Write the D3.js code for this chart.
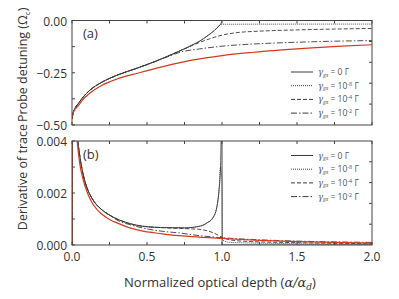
<!DOCTYPE html>
<html>
<head>
<meta charset="utf-8">
<script src="https://cdn.jsdelivr.net/npm/d3@7"></script>
<style>
  body { margin: 0; background: #fff; }
  text { font-family: "Open Sans", "Noto Sans", sans-serif; }
</style>
</head>
<body>
<div id="chart"></div>
<script>
// ---- data ----
// panel (a): probe detuning vs normalized optical depth
const detRed = [[0,-0.47],[0.005,-0.45],[0.02,-0.425],[0.04,-0.41],[0.07,-0.38],[0.12,-0.347],[0.2,-0.31],[0.3,-0.28],[0.45,-0.25],[0.6,-0.222],[0.8,-0.19],[1.0,-0.168],[1.2,-0.153],[1.4,-0.141],[1.6,-0.131],[1.8,-0.123],[2.0,-0.116]];
const detSolid = [[0,-0.47],[0.005,-0.45],[0.02,-0.42],[0.04,-0.4],[0.07,-0.37],[0.12,-0.333],[0.2,-0.295],[0.3,-0.262],[0.45,-0.224],[0.55,-0.197],[0.65,-0.167],[0.72,-0.145],[0.8,-0.118],[0.853,-0.098],[0.9,-0.075],[0.95,-0.047],[0.98,-0.026],[0.995,-0.011],[1.0,0],[2.0,0]];
const detDotted = detSolid.filter(d => d[0] <= 0.98).concat([[0.99,-0.02],[1.0,-0.018],[2.0,-0.017]]);
const detDashed = detSolid.filter(d => d[0] <= 0.72).concat([[0.8,-0.12],[0.853,-0.104],[0.9,-0.092],[0.95,-0.08],[1.0,-0.07],[1.1,-0.058],[1.25,-0.051],[1.5,-0.045],[1.75,-0.041],[2.0,-0.038]]);
const detDashDot = detSolid.filter(d => d[0] <= 0.45).concat([[0.55,-0.198],[0.65,-0.17],[0.72,-0.152],[0.85,-0.136],[1.0,-0.123],[1.25,-0.111],[1.5,-0.104],[1.75,-0.099],[2.0,-0.096]]);

// panel (b): derivative of trace
const derRed = [[0,0],[0.001,0.008],[0.02,0.0052],[0.03,0.0043],[0.05,0.0032],[0.075,0.0025],[0.1,0.00205],[0.125,0.00172],[0.15,0.00148],[0.2,0.00118],[0.25,0.00098],[0.3,0.00085],[0.375,0.00068],[0.45,0.00056],[0.6,0.00043],[0.8,0.00032],[1.0,0.00025],[1.25,0.00018],[1.5,0.00013],[1.75,0.0001],[2.0,0.00007]];
const derSolid = [[0,0],[0.001,0.008],[0.02,0.0054],[0.03,0.0045],[0.05,0.0035],[0.075,0.0027],[0.1,0.0022],[0.125,0.00188],[0.15,0.00165],[0.2,0.00135],[0.25,0.00115],[0.3,0.001],[0.375,0.00084],[0.45,0.00074],[0.6,0.00067],[0.75,0.00066],[0.85,0.00072],[0.9,0.00085],[0.94,0.00105],[0.97,0.0016],[0.98,0.0021],[0.99,0.003],[0.995,0.0045],[1.0,0.008],[1.0005,0],[2.0,0]];
const derDotted = derSolid.filter(d => d[0] <= 0.99).concat([[0.995,0.0028],[1.0,0.0024],[1.003,0.0002],[1.05,0.0001],[1.5,0.00005],[2.0,0.00003]]);
const derDashed = derSolid.filter(d => d[0] <= 0.6).concat([[0.7,0.00064],[0.8,0.00062],[0.853,0.0006],[0.9,0.00055],[0.95,0.00045],[1.0,0.0003],[1.05,0.0002],[1.2,0.00013],[1.5,0.00009],[2.0,0.00005]]);
const derDashDot = derSolid.filter(d => d[0] <= 0.25).concat([[0.3,0.00096],[0.4,0.00076],[0.5,0.00062],[0.6,0.00053],[0.72,0.00046],[0.85,0.00036],[1.0,0.00028],[1.25,0.0002],[1.5,0.00015],[2.0,0.0001]]);

const xTicks = [0, 0.5, 1.0, 1.5, 2.0];
const detTicks = [0, -0.25, -0.5];
const derTicks = [0, 0.002, 0.004];
const legendExp = [null, "-8", "-4", "-2"];

// ---- layout ----
const width = 399, height = 299;
const left = 72, right = 372;
const panelA = { top: 20.5, bottom: 125 };
const panelB = { top: 141, bottom: 245 };
const black = "#3a3a3a";
const red = "#d23a1c";
const styles = [
  { dash: null },
  { dash: "1,1" },
  { dash: "4,2" },
  { dash: "6,2,1.5,2" }
];

const svg = d3.select("#chart").append("svg")
  .attr("width", width).attr("height", height);

const x = d3.scaleLinear().domain([0, 2]).range([left, right]);

function drawPanel(p, yDomain, ticks, tickFmt, minorLeft, nRight, series, redSeries, id, label, legendTop) {
  const y = d3.scaleLinear().domain(yDomain).range([p.bottom, p.top]);
  const g = svg.append("g");

  svg.append("clipPath").attr("id", id)
    .append("rect")
    .attr("x", left).attr("y", p.top)
    .attr("width", right - left).attr("height", p.bottom - p.top);

  const line = d3.line()
    .x(d => x(d[0])).y(d => y(d[1]))
    .curve(d3.curveMonotoneX);

  const curves = g.append("g").attr("clip-path", `url(#${id})`);

  series.forEach((s, i) => {
    curves.append("path")
      .attr("d", line(s))
      .attr("fill", "none")
      .attr("stroke", black)
      .attr("stroke-width", 0.9)
      .attr("stroke-dasharray", styles[i].dash);
  });

  curves.append("path")
    .attr("d", line(redSeries))
    .attr("fill", "none")
    .attr("stroke", red)
    .attr("stroke-width", 1.2);

  // frame
  g.append("rect")
    .attr("x", left).attr("y", p.top)
    .attr("width", right - left).attr("height", p.bottom - p.top)
    .attr("fill", "none").attr("stroke", "#444").attr("stroke-width", 1);

  // x ticks (inward, top and bottom)
  const xt = d3.range(0, 2.001, 0.25);
  xt.forEach(v => {
    g.append("line").attr("x1", x(v)).attr("x2", x(v))
      .attr("y1", p.bottom).attr("y2", p.bottom - 3).attr("stroke", "#444");
    g.append("line").attr("x1", x(v)).attr("x2", x(v))
      .attr("y1", p.top).attr("y2", p.top + 3).attr("stroke", "#444");
  });

  // left y ticks
  minorLeft.forEach(v => {
    g.append("line").attr("x1", left).attr("x2", left + 3)
      .attr("y1", y(v)).attr("y2", y(v)).attr("stroke", "#444");
  });
  ticks.forEach(v => {
    g.append("text")
      .attr("x", left - 5).attr("y", y(v) + 5)
      .attr("text-anchor", "end")
      .attr("font-size", 12)
      .attr("fill", "#333")
      .text(tickFmt(v));
  });

  // right y ticks
  for (let i = 1; i < nRight; i++) {
    const v = yDomain[0] + (yDomain[1] - yDomain[0]) * i / nRight;
    g.append("line").attr("x1", right).attr("x2", right - 3)
      .attr("y1", y(v)).attr("y2", y(v)).attr("stroke", "#444");
  }

  // panel label
  g.append("text")
    .attr("x", 83).attr("y", p.top + 17.5)
    .attr("font-size", 13).attr("fill", "#333")
    .text(label);

  // legend
  const leg = g.append("g");
  legendExp.forEach((e, i) => {
    const ly = legendTop + i * 13.7;
    leg.append("line")
      .attr("x1", 291).attr("x2", 313)
      .attr("y1", ly).attr("y2", ly)
      .attr("stroke", black).attr("stroke-width", 1)
      .attr("stroke-dasharray", styles[i].dash);
    const t = leg.append("text")
      .attr("x", 318).attr("y", ly + 3)
      .attr("font-size", 8.5).attr("fill", "#555");
    t.append("tspan").attr("font-style", "italic").attr("font-family", "DejaVu Serif, serif").text("γ");
    t.append("tspan").attr("font-size", 5.5).attr("dy", 1.5).attr("font-style", "italic").text("gs");
    if (e === null) {
      t.append("tspan").attr("dy", -1.5).text(" = 0 Γ");
    } else {
      t.append("tspan").attr("dy", -1.5).text(" = 10");
      t.append("tspan").attr("font-size", 5.5).attr("dy", -3).text(e);
      t.append("tspan").attr("dy", 3).text(" Γ");
    }
  });

  return y;
}

drawPanel(panelA, [-0.5, 0], detTicks, d3.format(".2f"), [0, -0.125, -0.25, -0.375, -0.5], 5,
  [detSolid, detDotted, detDashed, detDashDot], detRed, "clipA", "(a)", 72);

drawPanel(panelB, [0, 0.004], derTicks, d3.format(".3f"), [0, 0.001, 0.002, 0.003, 0.004], 5,
  [derSolid, derDotted, derDashed, derDashDot], derRed, "clipB", "(b)", 155.5);

// x tick labels (bottom panel only)
xTicks.forEach(v => {
  svg.append("text")
    .attr("x", x(v)).attr("y", 261)
    .attr("text-anchor", "middle")
    .attr("font-size", 12).attr("fill", "#333")
    .text(d3.format(".1f")(v));
});

// x title
const xt = svg.append("text")
  .attr("x", 220).attr("y", 287)
  .attr("text-anchor", "middle")
  .attr("font-size", 13).attr("fill", "#333");
xt.append("tspan").text("Normalized optical depth (");
xt.append("tspan").attr("font-family", "DejaVu Serif, serif").attr("font-style", "italic").text("α/α");
xt.append("tspan").attr("font-family", "DejaVu Serif, serif").attr("font-style", "italic")
  .attr("font-size", 9).attr("dy", 3).text("d");
xt.append("tspan").attr("dy", -3).text(")");

// y titles
const ya = svg.append("text")
  .attr("transform", "translate(27, 122) rotate(-90)")
  .attr("text-anchor", "start")
  .attr("font-size", 12.5).attr("fill", "#333");
ya.append("tspan").text("Probe detuning (Ω");
ya.append("tspan").attr("font-size", 8).attr("dy", 3).text("c");
ya.append("tspan").attr("dy", -3).text(")");

svg.append("text")
  .attr("transform", "translate(27, 124) rotate(-90)")
  .attr("text-anchor", "end")
  .attr("font-size", 12.5).attr("fill", "#333")
  .text("Derivative of trace");
</script>
</body>
</html>
